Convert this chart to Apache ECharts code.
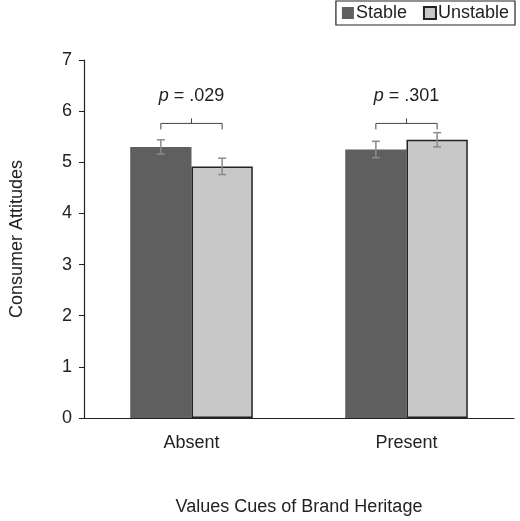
<!DOCTYPE html>
<html><head><meta charset="utf-8">
<script src="https://cdn.jsdelivr.net/npm/echarts@6/dist/echarts.min.js"></script>
<style>html,body{margin:0;background:#fff}#c{width:520px;height:521px}</style>
</head><body><div id="c"></div>
<script>
var categories = ['Absent', 'Present'];
var stable = [5.30, 5.25];
var unstable = [4.92, 5.44];
var stableErr = [0.14, 0.16];
var unstableErr = [0.16, 0.14];
var bracketY = [5.76, 5.76];
var pLabels = ['.029', '.301'];

var chart = echarts.init(document.getElementById('c'));
var font = 'Liberation Sans, Arial, sans-serif';
var BW = 0.285;

function errSeries(vals, errs, sign) {
    return {
        type: 'custom', z: 5,
        data: vals.map(function (v, i) { return [i, v, errs[i]]; }),
        renderItem: function (params, api) {
            var band = api.size([1, 0])[0];
            var off = sign * band * BW / 2;
            var hi = api.coord([api.value(0), api.value(1) + api.value(2)]);
            var lo = api.coord([api.value(0), api.value(1) - api.value(2)]);
            var x = hi[0] + off, st = { stroke: '#8a8a8a', lineWidth: 1.5 };
            return { type: 'group', children: [
                { type: 'line', shape: { x1: x, y1: hi[1], x2: x, y2: lo[1] }, style: st },
                { type: 'line', shape: { x1: x - 4, y1: hi[1], x2: x + 4, y2: hi[1] }, style: st },
                { type: 'line', shape: { x1: x - 4, y1: lo[1], x2: x + 4, y2: lo[1] }, style: st }
            ] };
        }
    };
}

var option = {
    backgroundColor: '#fff',
    animation: false,
    legend: {
        top: 1, right: 5, itemWidth: 12, itemHeight: 12, itemGap: 16, icon: 'rect',
        borderColor: '#222', borderWidth: 1.2, padding: [3, 6, 3, 6],
        textStyle: { fontFamily: font, fontSize: 18, color: '#222', padding: [0, 0, 0, -3] },
        data: ['Stable', 'Unstable']
    },
    grid: { left: 79, right: 6, top: 60, bottom: 94 },
    xAxis: {
        type: 'category', data: categories,
        name: 'Values Cues of Brand Heritage', nameLocation: 'middle', nameGap: 80,
        nameTextStyle: { fontFamily: font, fontSize: 18, color: '#222' },
        axisLine: { lineStyle: { color: '#222', width: 1.2 } },
        axisTick: { show: false },
        axisLabel: { fontFamily: font, fontSize: 18, color: '#222', margin: 16 }
    },
    yAxis: {
        type: 'value', min: 0, max: 7, interval: 1,
        name: 'Consumer Attitudes', nameLocation: 'middle', nameGap: 58,
        nameTextStyle: { fontFamily: font, fontSize: 18, color: '#222' },
        axisLine: { show: true, lineStyle: { color: '#222', width: 1.2 } },
        axisTick: { show: true, length: 5, lineStyle: { color: '#222' } },
        splitLine: { show: false },
        axisLabel: { fontFamily: font, fontSize: 18, color: '#222', margin: 12 }
    },
    series: [
        { name: 'Stable', type: 'bar', data: stable, barWidth: BW * 100 + '%', barGap: '0%',
          itemStyle: { color: '#5f5f5f' } },
        { name: 'Unstable', type: 'bar', data: unstable, barWidth: BW * 100 + '%',
          itemStyle: { color: '#c8c8c8', borderColor: '#222', borderWidth: 1.5 } },
        errSeries(stable, stableErr, -1),
        errSeries(unstable, unstableErr, 1),
        {
            type: 'custom', z: 6,
            data: bracketY.map(function (v, i) { return [i, v, pLabels[i]]; }),
            renderItem: function (params, api) {
                var band = api.size([1, 0])[0];
                var off = band * BW / 2;
                var c = api.coord([api.value(0), api.value(1)]);
                var x1 = c[0] - off, x2 = c[0] + off, y = c[1];
                var st = { stroke: '#444', lineWidth: 1, fill: null };
                return { type: 'group', children: [
                    { type: 'polyline', shape: { points: [[x1, y + 6], [x1, y], [x2, y], [x2, y + 6]] }, style: st },
                    { type: 'line', shape: { x1: c[0], y1: y, x2: c[0], y2: y - 5 }, style: st },
                    { type: 'text', x: c[0], y: y - 27, style: {
                        text: '{i|p} = ' + pLabels[params.dataIndex], textAlign: 'center', textVerticalAlign: 'middle',
                        fontFamily: font, fontSize: 18, fill: '#222',
                        rich: { i: { fontStyle: 'italic', fontFamily: font, fontSize: 18 } } } }
                ] };
            }
        }
    ]
};
chart.setOption(option);
</script>
</body></html>
